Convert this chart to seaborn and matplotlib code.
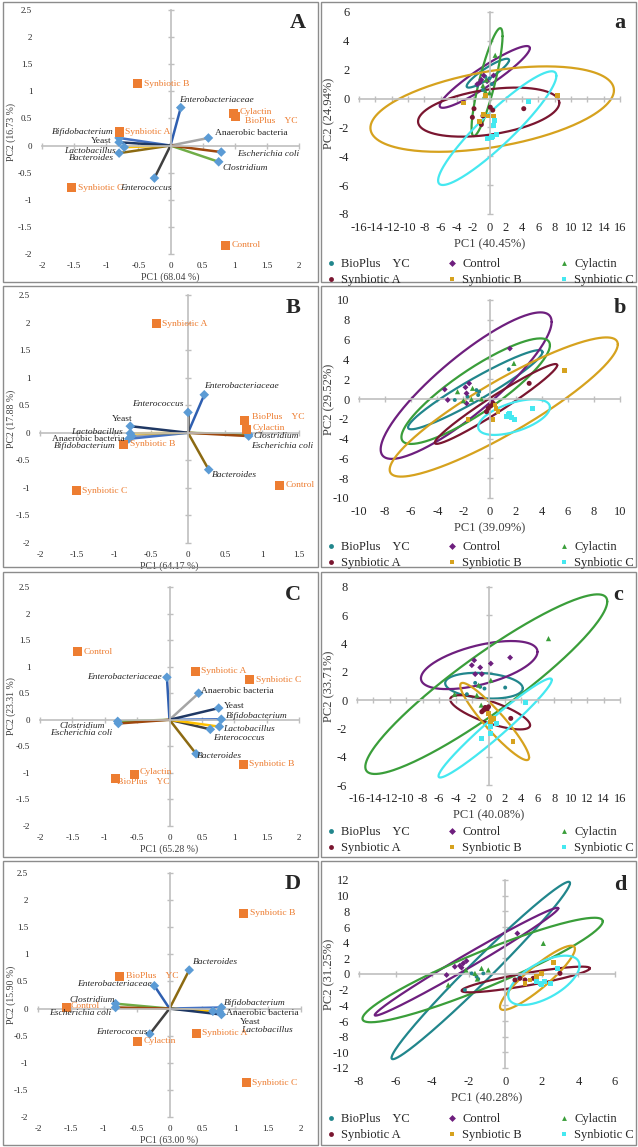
import numpy as np
import pandas as pd
import matplotlib.pyplot as plt
import seaborn as sns
from matplotlib.patches import Rectangle
from matplotlib.lines import Line2D
from matplotlib.ticker import FuncFormatter

sns.set_style('white')
plt.rcParams['font.family'] = ['Liberation Serif', 'DejaVu Serif']

# ============================================
# DATA - biplots (left column, panels A-D)
# ============================================
VARIABLES = ['Anaerobic bacteria', 'Bacteroides', 'Bifidobacterium', 'Clostridium',
             'Enterobacteriaceae', 'Enterococcus', 'Escherichia coli', 'Lactobacillus', 'Yeast']
SAMPLES = ['BioPlus    YC', 'Control', 'Cylactin', 'Synbiotic A', 'Synbiotic B', 'Synbiotic C']

LOAD_A_PC1 = [0.59, -0.80, -0.80, 0.75, 0.16, -0.25, 0.79, -0.72, -0.80]
LOAD_A_PC2 = [0.14, -0.14, 0.14, -0.30, 0.70, -0.60, -0.12, -0.03, 0.06]
SCORE_A_PC1 = [1.01, 0.86, 0.98, -0.80, -0.51, -1.54]
SCORE_A_PC2 = [0.54, -1.84, 0.60, 0.25, 1.14, -0.78]

LOAD_B_PC1 = [-0.76, 0.28, -0.80, 0.82, 0.22, 0.00, 0.82, -0.78, -0.78]
LOAD_B_PC2 = [-0.06, -0.67, -0.11, -0.03, 0.69, 0.37, -0.06, -0.01, 0.12]
SCORE_B_PC1 = [0.77, 1.24, 0.79, -0.43, -0.87, -1.51]
SCORE_B_PC2 = [0.23, -0.95, 0.06, 1.98, -0.21, -1.05]

LOAD_C_PC1 = [0.45, 0.41, 0.80, -0.80, -0.04, 0.63, -0.79, 0.77, 0.76]
LOAD_C_PC2 = [0.50, -0.64, 0.01, -0.03, 0.80, -0.18, -0.07, -0.13, 0.22]
SCORE_C_PC1 = [-0.84, -1.42, -0.54, 0.40, 1.14, 1.24]
SCORE_C_PC2 = [-1.11, 1.28, -1.03, 0.91, -0.84, 0.75]

LOAD_D_PC1 = [0.66, 0.30, 0.79, -0.82, -0.23, -0.30, -0.82, 0.76, 0.79]
LOAD_D_PC2 = [-0.05, 0.71, 0.02, 0.09, 0.42, -0.47, 0.02, -0.06, -0.11]
SCORE_D_PC1 = [-0.76, -1.56, -0.48, 0.41, 1.13, 1.17]
SCORE_D_PC2 = [0.60, 0.02, -0.60, -0.46, 1.76, -1.37]

# ============================================
# DATA - score plots (right column, panels a-d)
# ============================================
GROUPS = SAMPLES

POINTS_a = {
    'BioPlus    YC': ([-1.0, -0.5, -1.5, 0.0, -0.8, 0.3], [1.2, 1.5, 0.9, 1.4, 0.6, 1.0]),
    'Control': ([0.5, -1.2, -0.7, -1.5, -0.3, -1.0], [1.6, 1.1, 1.6, 1.0, 1.2, 1.3]),
    'Cylactin': ([0.7, -0.5, -0.4, -0.8, 0.0, -0.6], [3.0, 0.5, 1.3, 0.9, 0.4, 0.2]),
    'Synbiotic A': ([-1.9, -2.1, -1.0, 0.1, 0.4, 4.2, -0.8], [-0.7, -1.3, -1.8, -0.6, -0.8, -0.7, -1.2]),
    'Synbiotic B': ([-3.2, 8.3, -0.7, -1.2, -0.2, 0.5, -0.5], [-0.3, 0.2, -1.1, -1.6, -1.2, -1.2, 0.2]),
    'Synbiotic C': ([4.8, 0.2, -0.2, 0.6, 0.5, 0.8, 0.4], [-0.2, -2.7, -2.8, -1.5, -1.9, -2.5, -2.6]),
}
POINTS_b = {
    'BioPlus    YC': ([1.48, -2.66, -1.69, -1.0, -0.79, -0.87], [3.0, -0.1, 0.24, 0.9, 0.74, 0.4]),
    'Control': ([1.56, -3.43, -3.2, -1.84, -1.56, -1.76, -1.76], [5.1, 0.97, -0.1, 1.18, 1.58, 0.57, -0.44]),
    'Cylactin': ([1.87, -2.45, -1.3, -1.38, -0.61, -2.0], [3.6, 0.74, 1.08, -0.03, 0.0, -0.17]),
    'Synbiotic A': ([3.04, -0.23, 0.08, -0.1, 0.28], [1.58, -1.28, -0.7, -0.94, -0.44]),
    'Synbiotic B': ([5.73, 0.28, 0.66, 0.41, -1.64, 0.49], [2.86, -2.05, -1.28, -0.6, -2.1, -0.94]),
    'Synbiotic C': ([3.27, 1.43, 1.69, 1.94, 1.3, 1.56], [-0.94, -1.61, -1.85, -2.12, -1.78, -1.51]),
}
POINTS_c = {
    'BioPlus    YC': ([2.03, -1.62, -1.01, -0.49, -2.63], [0.89, 1.22, 0.94, 0.82, 0.42]),
    'Control': ([2.63, -1.74, -2.03, -1.01, 0.28, -1.62, -0.81], [3.01, 2.82, 2.47, 2.31, 2.59, 1.84, 1.84]),
    'Cylactin': ([7.3, 0.28, -1.2, -4.13, -1.42, -0.89], [4.35, 1.41, 1.06, 0.42, 0.35, -0.35]),
    'Synbiotic A': ([2.71, -0.61, -0.4, -0.2, -0.81, 0.0], [-1.29, -0.71, -0.52, -0.66, -0.82, -0.47]),
    'Synbiotic B': ([2.96, 0.4, 0.2, 0.61, 0.0, 0.28], [-2.94, -1.41, -1.18, -1.29, -0.94, -1.6]),
    'Synbiotic C': ([4.46, -0.81, 0.2, 1.01, 0.28], [-0.19, -2.71, -2.35, -1.65, -1.88]),
}
POINTS_d = {
    'BioPlus    YC': ([-2.21, -1.57, -1.2, -1.48, -1.84], [-2.04, -0.34, 0.08, -0.64, 0.08]),
    'Control': ([0.66, -3.21, -2.76, -2.48, -2.3, -2.12, -2.39], [5.18, -0.13, 0.93, 1.06, 1.36, 1.66, 0.81]),
    'Cylactin': ([2.08, -3.12, -1.3, -0.93, -1.66, -1.53, -2.15], [3.91, -1.4, 0.72, 0.51, 0.08, -0.64, 0.51]),
    'Synbiotic A': ([2.99, 0.8, 0.53, 1.08, 1.53], [0.08, -0.55, -0.76, -0.76, -0.55]),
    'Synbiotic B': ([2.63, 1.35, 1.72, 1.99, 1.08, 2.45], [1.49, -0.76, -0.34, 0.08, -1.19, -1.19]),
    'Synbiotic C': ([2.85, 1.9, 2.17, 2.45, 1.99, 1.72], [0.72, -1.19, -0.98, -1.19, -1.4, -0.98]),
}

# ellipse per group: centre x, centre y, half-extent x, half-extent y, correlation
ELLIPSES_a = [(-0.2, 1.76, 2.6, 1.0, 0.9), (-0.58, 1.5, 5.53, 2.14, 0.93), (-0.3, 1.14, 1.9, 3.74, 0.85),
              (-0.1, -0.94, 8.66, 1.70, 0.38), (0.33, -0.73, 14.93, 2.96, 0.44), (0.95, -2.05, 7.25, 3.94, 0.92)]
ELLIPSES_b = [(-1.09, 0.94, 5.15, 4.0, 0.95), (-1.79, 1.35, 6.55, 7.4, 0.87), (-1.06, 0.79, 5.69, 5.33, 0.87),
              (0.5, -0.5, 4.69, 4.03, 0.97), (1.09, -0.81, 8.74, 7.03, 0.9), (1.88, -1.83, 2.75, 1.8, 0.55)]
ELLIPSES_c = [(-0.55, 1.02, 4.72, 0.91, -0.2), (-1.13, 2.48, 7.09, 1.7, 0.55), (-0.27, 1.13, 14.72, 6.35, 0.92),
              (0.2, -0.86, 4.86, 1.21, -0.75), (0.75, -1.51, 4.19, 2.73, -0.93), (0.81, -1.97, 6.89, 3.5, 0.97)]
ELLIPSES_d = [(-1.34, 0.45, 4.88, 11.32, 0.985), (-2.12, 1.57, 5.02, 6.88, 0.99), (-1.24, 0.51, 6.57, 6.67, 0.93),
              (1.12, -0.7, 3.51, 1.64, 0.87), (1.76, -0.49, 2.05, 4.1, 0.9), (2.11, -0.81, 1.95, 3.15, 0.6)]

# ============================================
# STYLE
# ============================================
W, H = 638, 1147
AXIS_GRAY = '#BFBFBF'
LABEL_GRAY = '#404040'
ORANGE = '#ED7D31'
DIAMOND_BLUE = '#5B9BD5'
VAR_COLORS = {
    'Anaerobic bacteria': '#A5A5A5', 'Bacteroides': '#8C6A12', 'Bifidobacterium': '#4472C4',
    'Clostridium': '#70AD47', 'Enterobacteriaceae': '#2F5FB0', 'Enterococcus': '#404040',
    'Escherichia coli': '#9E480E', 'Lactobacillus': '#FFC000', 'Yeast': '#1F3864',
}
ITALIC_VARS = {'Bacteroides', 'Bifidobacterium', 'Clostridium', 'Enterobacteriaceae',
               'Enterococcus', 'Escherichia coli', 'Lactobacillus'}
GROUP_COLORS = {'BioPlus    YC': '#21868C', 'Control': '#6E1F7E', 'Cylactin': '#3A9E3A',
                'Synbiotic A': '#7A1630', 'Synbiotic B': '#D6A21E', 'Synbiotic C': '#45E8F0'}
GROUP_MARKERS = {'BioPlus    YC': 'o', 'Control': 'D', 'Cylactin': '^',
                 'Synbiotic A': 'o', 'Synbiotic B': 's', 'Synbiotic C': 's'}
GROUP_SIZES = {'BioPlus    YC': 8, 'Control': 9, 'Cylactin': 14,
               'Synbiotic A': 13, 'Synbiotic B': 11, 'Synbiotic C': 13}

# label offsets in pixels (dx, dy, ha)
VAR_POS_A = {'Enterobacteriaceae': (-2, 8, 'left'), 'Anaerobic bacteria': (7, 5, 'left'),
             'Escherichia coli': (16, -2, 'left'), 'Clostridium': (4, -6, 'left'),
             'Enterococcus': (-34, -10, 'left'), 'Bifidobacterium': (-5, 6, 'right'),
             'Yeast': (-8, 1, 'right'), 'Lactobacillus': (-8, -4, 'right'), 'Bacteroides': (-5, -5, 'right')}
VAR_POS_B = {'Enterobacteriaceae': (0, 9, 'left'), 'Enterococcus': (-4, 8, 'right'),
             'Yeast': (-8, 7, 'center'), 'Lactobacillus': (-7, 1, 'right'),
             'Anaerobic bacteria': (-7, -3, 'right'), 'Bifidobacterium': (-13, -7, 'right'),
             'Clostridium': (5, -2, 'left'), 'Escherichia coli': (2, -10, 'left'), 'Bacteroides': (3, -5, 'left')}
VAR_POS_C = {'Enterobacteriaceae': (-5, 0, 'right'), 'Anaerobic bacteria': (2, 2, 'left'),
             'Yeast': (5, 2, 'left'), 'Bifidobacterium': (5, 3, 'left'), 'Lactobacillus': (4, -2, 'left'),
             'Enterococcus': (3, -9, 'left'), 'Bacteroides': (1, -2, 'left'),
             'Clostridium': (-13, -5, 'right'), 'Escherichia coli': (-6, -10, 'right')}
VAR_POS_D = {'Bacteroides': (4, 8, 'left'), 'Enterobacteriaceae': (-3, 2, 'right'),
             'Clostridium': (-1, 4, 'right'), 'Escherichia coli': (-4, -6, 'right'),
             'Enterococcus': (-2, 2, 'right'), 'Bifidobacterium': (2, 4, 'left'),
             'Anaerobic bacteria': (13, -2, 'left'), 'Yeast': (18, -7, 'left'), 'Lactobacillus': (22, -18, 'left')}
SAMPLE_POS_A = {'BioPlus    YC': (10, -5), 'Cylactin': (6, 1)}
SAMPLE_POS_B = {'BioPlus    YC': (7, 3), 'Cylactin': (6, 1)}
SAMPLE_POS_C = {'Cylactin': (5, 2), 'BioPlus    YC': (2, -3)}
SAMPLE_POS_D = {'Control': (4, 1)}


def ticks(a, b, step):
    return np.round(np.arange(a, b + step / 2, step), 2)


def add_axes_px(fig, box):
    x0, y0, x1, y1 = box
    return fig.add_axes([x0 / W, 1 - y1 / H, (x1 - x0) / W, (y1 - y0) / H])


def excel_axes(ax, box, xlim, ylim, xstep, ystep, xlabel, ylabel, tick_fs, label_fs,
               xpad, ypad, xlp, ylabel_px):
    ax.set_xlim(xlim)
    ax.set_ylim(ylim)
    ax.set_xlabel('')
    ax.set_ylabel('')
    ax.spines['top'].set_visible(False)
    ax.spines['right'].set_visible(False)
    ax.spines['left'].set_position(('data', 0))
    ax.spines['bottom'].set_position(('data', 0))
    for side in ['left', 'bottom']:
        ax.spines[side].set_color(AXIS_GRAY)
        ax.spines[side].set_linewidth(1.2)
    xt = ticks(xlim[0], xlim[1], xstep)
    yt = ticks(ylim[0], ylim[1], ystep)
    ax.set_xticks(xt)
    ax.set_yticks(yt)
    ax.tick_params(direction='inout', length=5, width=1.0, color=AXIS_GRAY,
                   left=True, bottom=True, labelleft=False, labelbottom=False)
    fmt = FuncFormatter(lambda v, pos: f'{v:g}')
    secx = ax.secondary_xaxis('bottom')
    secx.set_xticks(xt)
    secx.xaxis.set_major_formatter(fmt)
    secx.tick_params(length=0, pad=xpad, labelsize=tick_fs)
    secx.set_xlabel(xlabel, fontsize=label_fs, labelpad=xlp, color=LABEL_GRAY)
    secy = ax.secondary_yaxis('left')
    secy.set_yticks(yt)
    secy.yaxis.set_major_formatter(fmt)
    secy.tick_params(length=0, pad=ypad, labelsize=tick_fs)
    secy.set_ylabel(ylabel, fontsize=label_fs, color=LABEL_GRAY, va='center')
    x0, y0, x1, y1 = box
    secy.yaxis.set_label_coords(ylabel_px / W, 1 - (y0 + y1) / 2 / H, transform=fig.transFigure)
    for sec in (secx, secy):
        for sp in sec.spines.values():
            sp.set_visible(False)


def draw_biplot(ax, lx, ly, sx, sy, var_pos, sample_pos):
    for name, x, y in zip(VARIABLES, lx, ly):
        ax.plot([0, x], [0, y], color=VAR_COLORS[name], lw=1.8, zorder=2, solid_capstyle='butt')
    loads = pd.DataFrame({'pc1': lx, 'pc2': ly, 'variable': VARIABLES})
    sns.scatterplot(data=loads, x='pc1', y='pc2', marker='D', color=DIAMOND_BLUE, s=24,
                    edgecolor='none', ax=ax, zorder=3)
    scores = pd.DataFrame({'pc1': sx, 'pc2': sy, 'sample': SAMPLES})
    sns.scatterplot(data=scores, x='pc1', y='pc2', marker='s', color=ORANGE, s=42,
                    edgecolor='none', ax=ax, zorder=4)
    for _, r in loads.iterrows():
        dx, dy, ha = var_pos[r['variable']]
        ax.annotate(r['variable'], (r['pc1'], r['pc2']), xytext=(dx, dy), textcoords='offset pixels',
                    ha=ha, va='center', fontsize=6.8, color='#262626',
                    style='italic' if r['variable'] in ITALIC_VARS else 'normal', zorder=5)
    for _, r in scores.iterrows():
        dx, dy = sample_pos.get(r['sample'], (6, 0))
        ax.annotate(r['sample'], (r['pc1'], r['pc2']), xytext=(dx, dy), textcoords='offset pixels',
                    ha='left', va='center', fontsize=6.8, color=ORANGE, zorder=5)


def draw_scores(ax, points, ellipses):
    rows = []
    for g in GROUPS:
        xs, ys = points[g]
        rows += [(g, x, y) for x, y in zip(xs, ys)]
    df = pd.DataFrame(rows, columns=['group', 'pc1', 'pc2'])
    t = np.linspace(0, 2 * np.pi, 240)
    for g, (cx, cy, ex, ey, rho) in zip(GROUPS, ellipses):
        xe = cx + ex * np.cos(t)
        ye = cy + ey * (rho * np.cos(t) + np.sqrt(1 - rho ** 2) * np.sin(t))
        ax.plot(xe, ye, color=GROUP_COLORS[g], lw=1.6, zorder=2)
    sns.scatterplot(data=df, x='pc1', y='pc2', hue='group', style='group', size='group',
                    hue_order=GROUPS, style_order=GROUPS, size_order=GROUPS,
                    palette=GROUP_COLORS, markers=GROUP_MARKERS, sizes=GROUP_SIZES,
                    edgecolor='none', ax=ax, legend=False, zorder=3)


fig = plt.figure(figsize=(W / 100, H / 100), dpi=100)

# panel frames
for x0, x1 in [(3, 318), (321, 636)]:
    for y0, y1 in [(2, 282), (286, 567), (572, 857), (861, 1145)]:
        fig.patches.append(Rectangle((x0 / W, 1 - y1 / H), (x1 - x0) / W, (y1 - y0) / H,
                                     transform=fig.transFigure, fill=False, edgecolor='#8C8C8C', lw=1.0))

# ---------- left column ----------
left_panels = [
    ('A', (42, 10, 299, 254), (-2, 2), LOAD_A_PC1, LOAD_A_PC2, SCORE_A_PC1, SCORE_A_PC2,
     VAR_POS_A, SAMPLE_POS_A, 'PC1 (68.04 %)', 'PC2 (16.73 %)', (298, 23)),
    ('B', (40, 295, 299, 543), (-2, 1.5), LOAD_B_PC1, LOAD_B_PC2, SCORE_B_PC1, SCORE_B_PC2,
     VAR_POS_B, SAMPLE_POS_B, 'PC1 (64.17 %)', 'PC2 (17.88 %)', (293, 308)),
    ('C', (40, 587, 299, 826), (-2, 2), LOAD_C_PC1, LOAD_C_PC2, SCORE_C_PC1, SCORE_C_PC2,
     VAR_POS_C, SAMPLE_POS_C, 'PC1 (65.28 %)', 'PC2 (23.31 %)', (293, 595)),
    ('D', (38, 873, 301, 1117), (-2, 2), LOAD_D_PC1, LOAD_D_PC2, SCORE_D_PC1, SCORE_D_PC2,
     VAR_POS_D, SAMPLE_POS_D, 'PC1 (63.00 %)', 'PC2 (15.90 %)', (293, 884)),
]
for letter, box, xlim, lx, ly, sx, sy, vpos, spos, xlab, ylab, lpos in left_panels:
    ax = add_axes_px(fig, box)
    draw_biplot(ax, lx, ly, sx, sy, vpos, spos)
    excel_axes(ax, box, xlim, (-2, 2.5), 0.5, 0.5, xlab, ylab, 6.5, 7, 5.5, 7, 2, 11)
    fig.text(lpos[0] / W, 1 - lpos[1] / H, letter, fontsize=16, fontweight='bold',
             ha='center', va='center')

# ---------- right column ----------
right_panels = [
    ('a', (359, 12, 620, 214), (-16, 16), (-8, 6), POINTS_a, ELLIPSES_a,
     'PC1 (40.45%)', 'PC2 (24.94%)', (620, 23), 272),
    ('b', (359, 300, 620, 498), (-10, 10), (-10, 10), POINTS_b, ELLIPSES_b,
     'PC1 (39.09%)', 'PC2 (29.52%)', (620, 308), 555),
    ('c', (357, 587, 620, 785), (-16, 16), (-6, 8), POINTS_c, ELLIPSES_c,
     'PC1 (40.08%)', 'PC2 (33.71%)', (618, 595), 840),
    ('d', (359, 880, 615, 1068), (-8, 6), (-12, 12), POINTS_d, ELLIPSES_d,
     'PC1 (40.28%)', 'PC2 (31.25%)', (620, 885), 1127),
]
legend_order = ['BioPlus    YC', 'Synbiotic A', 'Control', 'Synbiotic B', 'Cylactin', 'Synbiotic C']
for letter, box, xlim, ylim, pts, ells, xlab, ylab, lpos, leg_y in right_panels:
    ax = add_axes_px(fig, box)
    draw_scores(ax, pts, ells)
    excel_axes(ax, box, xlim, ylim, 2, 2, xlab, ylab, 9, 9, 6, 7, 3, 329)
    fig.text(lpos[0] / W, 1 - lpos[1] / H, letter, fontsize=16, fontweight='bold',
             ha='center', va='center')
    handles = [Line2D([], [], ls='none', marker=GROUP_MARKERS[g], color=GROUP_COLORS[g],
                      markersize=3.5, markeredgewidth=0) for g in legend_order]
    fig.legend(handles, legend_order, loc='center', ncol=3, mode='expand', frameon=False,
               bbox_to_anchor=(326 / W, 1 - leg_y / H, (634 - 326) / W, 0),
               fontsize=9, handlelength=0.8, handletextpad=0.4, labelspacing=0.3,
               borderaxespad=0, borderpad=0)

fig.savefig('out.png', dpi=100)
